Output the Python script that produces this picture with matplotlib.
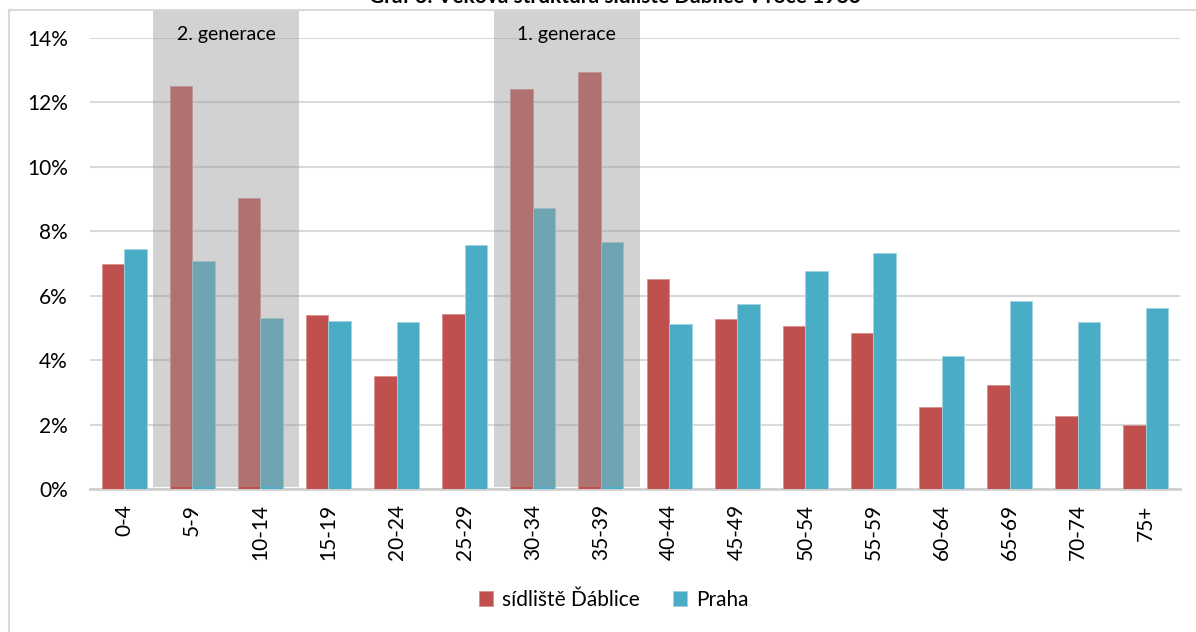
import matplotlib
matplotlib.use('Agg')
import matplotlib.pyplot as plt
import numpy as np
from matplotlib.patches import Rectangle
from matplotlib.lines import Line2D

plt.rcParams['font.family'] = ['Lato', 'DejaVu Sans']

# age groups and shares (%)
groups = ['0-4', '5-9', '10-14', '15-19', '20-24', '25-29', '30-34', '35-39',
          '40-44', '45-49', '50-54', '55-59', '60-64', '65-69', '70-74', '75+']
dablice = [6.97, 12.49, 9.04, 5.39, 3.49, 5.43, 12.40, 12.93,
           6.53, 5.27, 5.07, 4.84, 2.53, 3.24, 2.28, 1.97]
praha = [7.43, 7.07, 5.32, 5.22, 5.19, 7.56, 8.71, 7.65,
         5.11, 5.73, 6.77, 7.31, 4.14, 5.84, 5.17, 5.63]

# highlighted generations: (label, first group, last group)
highlights = [('2. generace', '5-9', '10-14'), ('1. generace', '30-34', '35-39')]

red = '#C0504D'
blue = '#4BACC6'

fig = plt.figure(figsize=(11.96, 6.32), dpi=100)
ax = fig.add_axes([90 / 1196, 1 - 489 / 632, 1090 / 1196, (489 - 37.7) / 632])

x = np.arange(len(groups))
w = 0.33
ax.bar(x - w / 2, dablice, w, color=red, edgecolor='#d98f8d', linewidth=0.6,
       label='sídliště Ďáblice', zorder=2)
ax.bar(x + w / 2, praha, w, color=blue, edgecolor='#9fd3e0', linewidth=0.6,
       label='Praha', zorder=2)

# grey boxes over the two generations
for name, a, b in highlights:
    i0 = groups.index(a)
    i1 = groups.index(b)
    ax.add_patch(Rectangle((i0 - 0.575, 0.07), (i1 - i0) + 1.15, 14.8,
                           facecolor='#9d9d9d', alpha=0.45, edgecolor='none',
                           zorder=3, clip_on=False))
    ax.text((i0 + i1) / 2, 14.1, name, ha='center', va='center', fontsize=14,
            color='black', zorder=4)

ax.set_xlim(-0.5, len(groups) - 0.5)
ax.set_ylim(0, 14)
ax.set_yticks(np.arange(0, 15, 2))
ax.set_yticklabels([f'{v}%' for v in range(0, 15, 2)])
ax.set_xticks(x)
ax.set_xticklabels(groups, rotation=90)
ax.tick_params(axis='both', length=0, labelsize=15)
ax.tick_params(axis='y', pad=16)
ax.tick_params(axis='x', pad=11)
ax.yaxis.grid(True, color='#d9d9d9', linewidth=1.5, zorder=0)
ax.set_axisbelow(True)
for s in ['top', 'right', 'left']:
    ax.spines[s].set_visible(False)
ax.spines['bottom'].set_color('#d0d0d0')
ax.spines['bottom'].set_linewidth(2)
ax.spines['bottom'].set_zorder(1)

fig.legend(loc='center', bbox_to_anchor=(0.513, 0.051), ncol=2, frameon=False,
           fontsize=15, handlelength=0.7, handleheight=0.7, handletextpad=0.4,
           columnspacing=1.6)

# chart area border (left and top edges visible)
fig.add_artist(Line2D([8.5 / 1196, 8.5 / 1196], [0, 1 - 9.5 / 632],
                      transform=fig.transFigure, color='#d9d9d9', linewidth=1.5))
fig.add_artist(Line2D([8.5 / 1196, 1], [1 - 9.5 / 632, 1 - 9.5 / 632],
                      transform=fig.transFigure, color='#d9d9d9', linewidth=1.5))

# title, cut off at the top of the image
fig.text(0.514, 1 - 3 / 632, 'Graf 3: Věková struktura sídliště Ďáblice v roce 1986',
         ha='center', va='baseline', fontsize=15, fontweight='bold')

fig.savefig('out.png', dpi=100)
